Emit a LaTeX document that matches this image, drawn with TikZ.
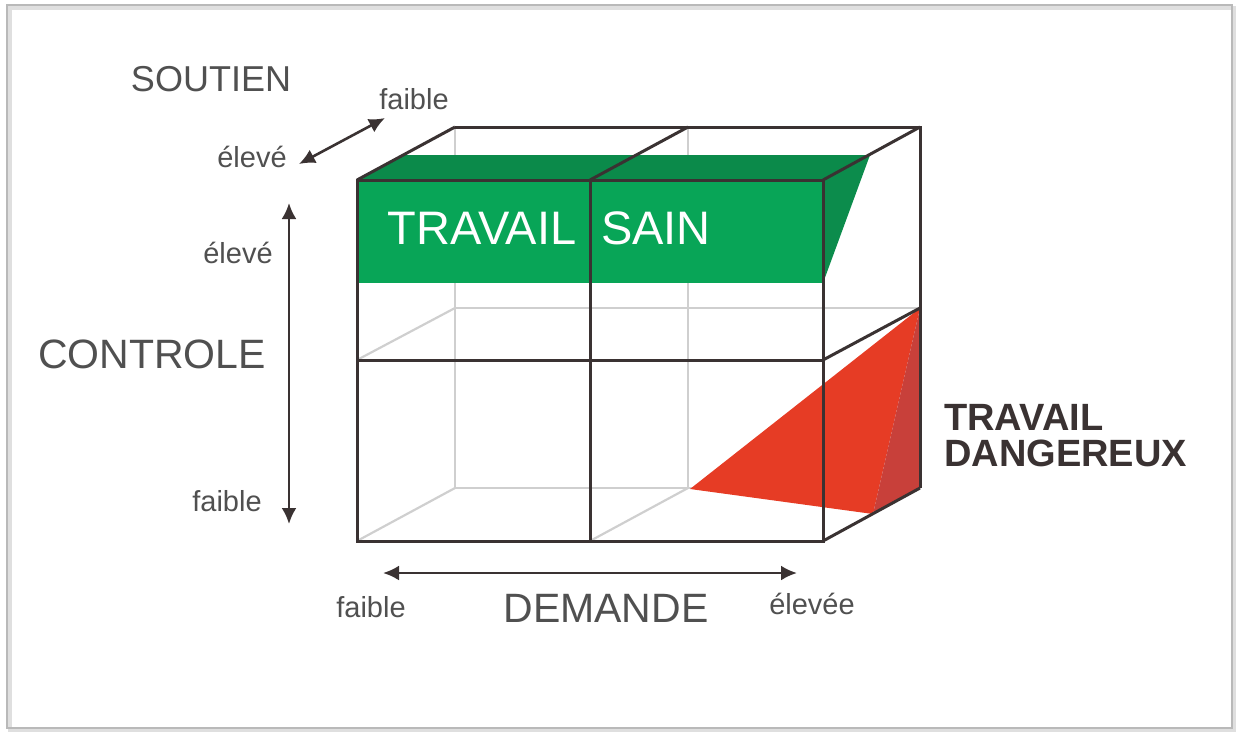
\documentclass[tikz,border=0pt]{standalone}
\usepackage{fontspec}
\setmainfont{Liberation Sans}
\usetikzlibrary{arrows.meta}
\definecolor{edgedark}{HTML}{3A3232}
\definecolor{edgelight}{HTML}{CFCFCF}
\definecolor{labelgrey}{HTML}{505050}
\definecolor{greenfront}{HTML}{08A557}
\definecolor{greentop}{HTML}{0B8A4A}
\definecolor{greenside}{HTML}{0C8C4C}
\definecolor{redfront}{HTML}{E63C25}
\definecolor{redside}{HTML}{C8403A}
\tikzset{
  darkedge/.style={draw=edgedark, line width=3pt, line join=miter},
  lightedge/.style={draw=edgelight, line width=2.2pt},
  axisarrow/.style={draw=edgedark, line width=2.6pt, {Latex[length=16pt,width=15pt]}-{Latex[length=16pt,width=15pt]}},
  axistitle/.style={text=labelgrey, font=\fontsize{41}{44}\selectfont, inner sep=0pt},
  smalllabel/.style={text=labelgrey, font=\fontsize{29}{32}\selectfont, inner sep=0pt},
  boxtext/.style={text=white, font=\fontsize{47}{50}\selectfont, inner sep=0pt},
  dangertext/.style={text=edgedark, font=\bfseries\fontsize{38}{38}\selectfont, inner sep=0pt, align=left, anchor=west}
}
\begin{document}
\begin{tikzpicture}[x=1pt, y=-1pt]
\useasboundingbox (0,0) rectangle (1236,732);
% page frame with a faint shadow
\draw[gray!25, line width=4pt] (10,8) rectangle (1234,730);
\draw[gray!55, line width=1.5pt] (7,5) rectangle (1232,728);

% corners of the front face (F..), back face (B..)
\coordinate (FTL) at (357,180); \coordinate (FTM) at (590,180); \coordinate (FTR) at (823,180);
\coordinate (FML) at (357,360); \coordinate (FMR) at (823,360);
\coordinate (FBL) at (357,541); \coordinate (FBM) at (590,541); \coordinate (FBR) at (823,541);
\coordinate (BTL) at (455,127); \coordinate (BTM) at (688,127); \coordinate (BTR) at (920,127);
\coordinate (BML) at (455,308); \coordinate (BMM) at (688,308); \coordinate (BMR) at (920,308);
\coordinate (BBL) at (455,488); \coordinate (BBM) at (688,488); \coordinate (BBR) at (920,488);

% hidden (back) edges
\draw[lightedge] (BTL) -- (BBL);
\draw[lightedge] (BTM) -- (BBM);
\draw[lightedge] (BML) -- (BMR);
\draw[lightedge] (BBL) -- (BBR);
\draw[lightedge] (FML) -- (BML);
\draw[lightedge] (FBL) -- (BBL);
\draw[lightedge] (FBM) -- (BBM);

% TRAVAIL SAIN slab
\fill[greenfront] (FTL) rectangle (823,283);
\fill[greentop] (FTL) -- (402,155) -- (870,155) -- (FTR) -- cycle;
\fill[greenside] (FTR) -- (870,155) -- (823,283) -- cycle;

% TRAVAIL DANGEREUX wedge
\coordinate (RB) at (873,514);
\fill[redfront] (690,489) -- (BMR) -- (RB) -- cycle;
\fill[redside] (RB) -- (BMR) -- (BBR) -- cycle;

% visible edges
\draw[darkedge] (FTL) rectangle (FBR);
\draw[darkedge] (FTM) -- (FBM);
\draw[darkedge] (FML) -- (FMR);
\draw[darkedge] (BTL) -- (BTR) -- (BBR);
\draw[darkedge] (FTL) -- (BTL);
\draw[darkedge] (FTM) -- (BTM);
\draw[darkedge] (FTR) -- (BTR);
\draw[darkedge] (FMR) -- (BMR);
\draw[darkedge] (FBR) -- (BBR);

% labels in the boxes
\node[boxtext] (sainA) at (482,228) {TRAVAIL};
\node[boxtext] (sainB) at (656,228) {SAIN};
\node[dangertext] (dangerA) at (944,417) {TRAVAIL};
\node[dangertext] (dangerB) at (944,453) {DANGEREUX};

% axis: SOUTIEN
\node[axistitle, font=\fontsize{36}{40}\selectfont] (soutien) at (211,79) {SOUTIEN};
\node[smalllabel] (sHigh) at (252,157) {élevé};
\node[smalllabel] (sLow) at (414,99) {faible};
\coordinate (sA) at (299,164);
\coordinate (sB) at (385,118);
\draw[axisarrow] (sA) -- (sB);

% axis: CONTROLE
\node[axistitle] (controle) at (152,354) {CONTROLE};
\node[smalllabel] (cHigh) at (238,253) {élevé};
\node[smalllabel] (cLow) at (227,501) {faible};
\coordinate (cA) at (289,203);
\coordinate (cB) at (289,524);
\draw[axisarrow] (cA) -- (cB);

% axis: DEMANDE
\node[axistitle] (demande) at (606,608) {DEMANDE};
\node[smalllabel] (dLow) at (371,607) {faible};
\node[smalllabel] (dHigh) at (812,604) {élevée};
\coordinate (dA) at (383,573);
\coordinate (dB) at (797,573);
\draw[axisarrow] (dA) -- (dB);
\end{tikzpicture}
\end{document}
